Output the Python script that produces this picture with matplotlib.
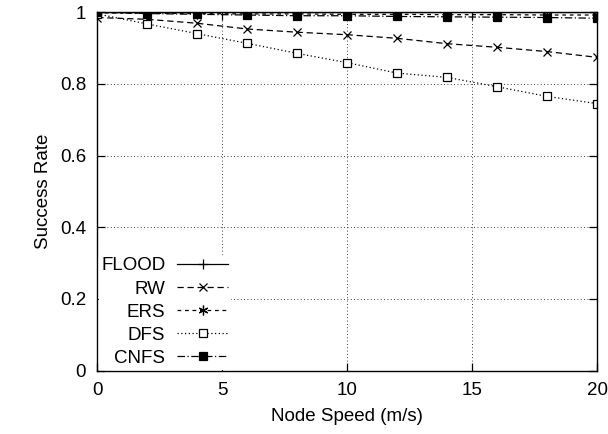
import matplotlib
matplotlib.use("Agg")
import matplotlib.pyplot as plt
from matplotlib.ticker import FuncFormatter

plt.rcParams['font.family'] = ['Liberation Sans', 'DejaVu Sans']

# node speed (m/s)
speed = [0, 2, 4, 6, 8, 10, 12, 14, 16, 18, 20]

# success rate per protocol
flood = [1.0, 1.0, 1.0, 1.0, 1.0, 1.0, 1.0, 1.0, 1.0, 1.0, 1.0]
rw = [0.985, 0.98, 0.969, 0.953, 0.944, 0.937, 0.927, 0.912, 0.902, 0.89, 0.874]
ers = [0.998, 0.997, 0.996, 0.995, 0.995, 0.994, 0.994, 0.993, 0.993, 0.992, 0.992]
dfs = [0.995, 0.967, 0.94, 0.913, 0.885, 0.859, 0.83, 0.818, 0.792, 0.765, 0.745]
cnfs = [1.0, 0.996, 0.994, 0.992, 0.99, 0.99, 0.988, 0.987, 0.986, 0.985, 0.983]

fs = 13.5
fig = plt.figure(figsize=(6.08, 4.34), dpi=100)
ax = fig.add_axes([0.160, 0.146, 0.822, 0.826])

lw = 0.9
ax.plot(speed, flood, color='black', lw=lw, ls='-', marker='+', ms=7, mew=0.9, label='FLOOD')
ax.plot(speed, rw, color='black', lw=lw, ls=(0, (5, 3)), marker='x', ms=6, mew=0.9, label='RW')
ax.plot(speed, ers, color='black', lw=lw, ls=(0, (3, 3)), marker=(6, 2, 0), ms=7, mew=0.9, label='ERS')
ax.plot(speed, dfs, color='black', lw=lw, ls=(0, (1, 2)), marker='s', ms=5.5, mfc='white', mew=0.9, label='DFS')
ax.plot(speed, cnfs, color='black', lw=lw, ls=(0, (6, 2, 1, 2)), marker='s', ms=5.5, mfc='black', mew=0.9, label='CNFS')

ax.set_xlim(0, 20)
ax.set_ylim(0, 1)
ax.set_xticks([0, 5, 10, 15, 20])
ax.set_yticks([0, 0.2, 0.4, 0.6, 0.8, 1.0])
ax.yaxis.set_major_formatter(FuncFormatter(lambda v, p: '%g' % v))
ax.tick_params(direction='in', length=6, width=0.9, top=True, right=True, labelsize=fs, pad=8)
for s in ax.spines.values():
    s.set_linewidth(1.0)

ax.grid(True, color='black', ls=(0, (1, 3)), lw=0.6)

ax.set_xlabel('Node Speed (m/s)', fontsize=fs, labelpad=7)
ax.set_ylabel('Success Rate', fontsize=fs, labelpad=6)

leg = ax.legend(loc='lower left', markerfirst=False, frameon=True, fancybox=False,
                edgecolor='white', framealpha=1.0, fontsize=fs, handlelength=2.7,
                labelspacing=0.32, borderaxespad=0.1, handletextpad=0.65, borderpad=0.1)
for col in leg._legend_handle_box.get_children():
    col.align = 'right'

fig.savefig('out.png', dpi=100)
